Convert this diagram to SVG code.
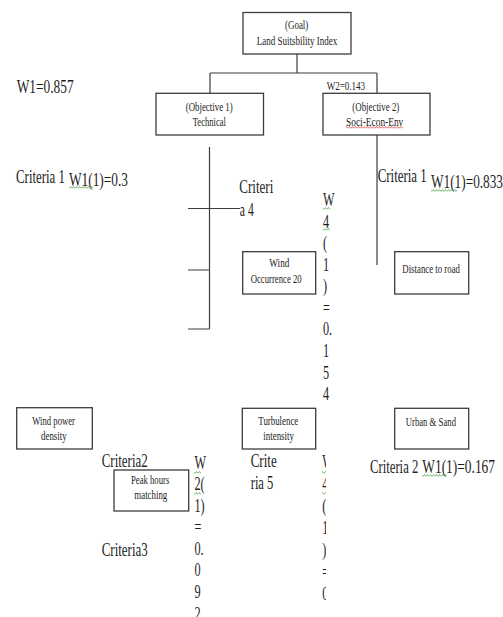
<svg xmlns="http://www.w3.org/2000/svg" width="503" height="617" viewBox="0 0 503 617">
<defs>
<style>
.box{fill:#fff;stroke:#3c3c3c;stroke-width:1.3}
.ln{stroke:#3c3c3c;stroke-width:1.2;fill:none}
text{font-family:"Liberation Serif","Times New Roman",serif;fill:#1e1e1e}
.s{font-size:12.5px}
.b{font-size:18px}
</style>
<pattern id="wg" width="3" height="3" patternUnits="userSpaceOnUse"><path d="M0 2.5L1.5 0.5L3 2.5" stroke="#3a9a3a" stroke-width="0.7" fill="none"/></pattern>
<pattern id="wr" width="3" height="3" patternUnits="userSpaceOnUse"><path d="M0 2.5L1.5 0.5L3 2.5" stroke="#d03030" stroke-width="0.7" fill="none"/></pattern>
<clipPath id="c3"><rect x="318" y="450" width="8" height="155"/></clipPath>
</defs>
<rect width="503" height="617" fill="#fff"/>

<g id="connectors" class="ln">
<path d="M297 54V73M210 73H377M210 73V93.3M377 73V93.3"/>
<path d="M377 135V265"/>
<path d="M209.5 147V329M188 208.5H240M188 270H209.5M188 329H209.5"/>
</g>

<g id="goal">
<rect class="box" x="243" y="12.5" width="108" height="41.5"/>
<text class="s" x="285" y="28.5" textLength="23.3" lengthAdjust="spacingAndGlyphs">(Goal)</text>
<text class="s" x="256.7" y="45" textLength="80.6" lengthAdjust="spacingAndGlyphs">Land Suitsbility Index</text>
</g>

<g id="label-w2">
<text class="s" x="326.7" y="90" textLength="38.3" lengthAdjust="spacingAndGlyphs">W2=0.143</text>
</g>

<g id="objective1">
<rect class="box" x="156" y="93.3" width="107.5" height="41.7"/>
<text class="s" x="185.7" y="111" textLength="47" lengthAdjust="spacingAndGlyphs">(Objective 1)</text>
<text class="s" x="192.7" y="125.7" textLength="33.3" lengthAdjust="spacingAndGlyphs">Technical</text>
</g>

<g id="objective2">
<rect class="box" x="323" y="93.3" width="107" height="41.7"/>
<text class="s" x="352.3" y="111" textLength="47" lengthAdjust="spacingAndGlyphs">(Objective 2)</text>
<text class="s" x="346" y="125.7" textLength="57.3" lengthAdjust="spacingAndGlyphs">Soci-Econ-Env</text>
<rect x="346" y="126" width="57" height="3" fill="url(#wr)"/>
</g>

<g id="label-w1">
<text class="b" x="16.7" y="93" textLength="57" lengthAdjust="spacingAndGlyphs">W1=0.857</text>
</g>

<g id="label-criteria1-left">
<text class="b" x="16" y="182.5" textLength="49" lengthAdjust="spacingAndGlyphs">Criteria 1</text>
<text class="b" x="69" y="186" textLength="59" lengthAdjust="spacingAndGlyphs">W1(1)=0.3</text>
<rect x="69" y="186" width="24" height="3" fill="url(#wg)"/>
</g>

<g id="label-criteria4">
<text class="b" x="239.3" y="192.7" textLength="34" lengthAdjust="spacingAndGlyphs">Criteri</text>
<text class="b" x="239.8" y="216" textLength="14" lengthAdjust="spacingAndGlyphs">a 4</text>
</g>

<g id="label-w4-col">
<g transform="translate(323,0) scale(0.68,1)">
<text class="b" x="0" y="206.5">W</text>
<text class="b" x="0" y="228">4</text>
<text class="b" x="0" y="249.5">(</text>
<text class="b" x="0" y="271">1</text>
<text class="b" x="0" y="292.5">)</text>
<text class="b" x="0" y="314">=</text>
<text class="b" x="0" y="335.5">0.</text>
<text class="b" x="0" y="357">1</text>
<text class="b" x="0" y="378.5">5</text>
<text class="b" x="0" y="400">4</text>
</g>
<rect x="323" y="207" width="7" height="3" fill="url(#wg)"/>
<rect x="323" y="228" width="7" height="3" fill="url(#wg)"/>
</g>

<g id="wind-occurrence">
<rect class="box" x="242.7" y="251.7" width="73" height="42.3"/>
<text class="s" x="269.3" y="266.7" textLength="20" lengthAdjust="spacingAndGlyphs">Wind</text>
<text class="s" x="250.7" y="282.7" textLength="51" lengthAdjust="spacingAndGlyphs">Occurrence  20</text>
</g>

<g id="label-criteria1-right">
<text class="b" x="377.7" y="182.3" textLength="49" lengthAdjust="spacingAndGlyphs">Criteria 1</text>
<text class="b" x="431" y="188" textLength="72" lengthAdjust="spacingAndGlyphs">W1(1)=0.833</text>
<rect x="431" y="189" width="26" height="3" fill="url(#wg)"/>
</g>

<g id="distance-road">
<rect class="box" x="394.7" y="251.7" width="74" height="42.3"/>
<text class="s" x="402.3" y="272.7" textLength="57.7" lengthAdjust="spacingAndGlyphs">Distance to road</text>
</g>

<g id="wind-power">
<rect class="box" x="16.7" y="407.7" width="75.6" height="41.3"/>
<text class="s" x="32.3" y="425" textLength="42.7" lengthAdjust="spacingAndGlyphs">Wind power</text>
<text class="s" x="41" y="439.5" textLength="25.7" lengthAdjust="spacingAndGlyphs">density</text>
</g>

<g id="turbulence">
<rect class="box" x="242.3" y="408.3" width="73.4" height="40.7"/>
<text class="s" x="258.3" y="425" textLength="40" lengthAdjust="spacingAndGlyphs">Turbulence</text>
<text class="s" x="263.3" y="439.5" textLength="30.7" lengthAdjust="spacingAndGlyphs">intensity</text>
</g>

<g id="urban-sand">
<rect class="box" x="394.7" y="408.3" width="74" height="40.7"/>
<text class="s" x="405.7" y="426" textLength="50.3" lengthAdjust="spacingAndGlyphs">Urban &amp; Sand</text>
</g>

<g id="label-criteria2-left">
<text class="b" x="101.7" y="467.3" textLength="46" lengthAdjust="spacingAndGlyphs">Criteria2</text>
</g>

<g id="peak-hours">
<rect class="box" x="114" y="470" width="74.7" height="41"/>
<text class="s" x="131" y="484.3" textLength="38.3" lengthAdjust="spacingAndGlyphs">Peak hours</text>
<text class="s" x="134.3" y="499" textLength="33" lengthAdjust="spacingAndGlyphs">matching</text>
</g>

<g id="label-criteria3">
<text class="b" x="101.7" y="555.7" textLength="46" lengthAdjust="spacingAndGlyphs">Criteria3</text>
</g>

<g id="label-w2-col">
<g transform="translate(194.5,0) scale(0.68,1)">
<text class="b" x="0" y="469">W</text>
<text class="b" x="0" y="490.5">2(</text>
<text class="b" x="0" y="512">1)</text>
<text class="b" x="0" y="533.5">=</text>
<text class="b" x="0" y="555">0.</text>
<text class="b" x="0" y="576.5">0</text>
<text class="b" x="0" y="598">9</text>
<text class="b" x="0" y="620.5">2</text>
</g>
<rect x="194" y="471" width="7" height="3" fill="url(#wg)"/>
<rect x="194" y="492" width="7" height="3" fill="url(#wg)"/>
</g>

<g id="label-criteria5">
<text class="b" x="250.7" y="467.3" textLength="26" lengthAdjust="spacingAndGlyphs">Crite</text>
<text class="b" x="250.7" y="489" textLength="22.7" lengthAdjust="spacingAndGlyphs">ria 5</text>
</g>

<g id="label-w5-col" clip-path="url(#c3)">
<g transform="translate(322.3,0) scale(0.68,1)">
<text class="b" x="0" y="468">W</text>
<text class="b" x="0" y="490">4</text>
<text class="b" x="0" y="512">(</text>
<text class="b" x="0" y="534">1</text>
<text class="b" x="0" y="556">)</text>
<text class="b" x="0" y="578">=</text>
<text class="b" x="0" y="600">0</text>
</g>
<rect x="322" y="471" width="4" height="3" fill="url(#wg)"/>
<rect x="322" y="492" width="4" height="3" fill="url(#wg)"/>
</g>

<g id="label-criteria2-right">
<text class="b" x="370" y="473.3" textLength="48.3" lengthAdjust="spacingAndGlyphs">Criteria 2</text>
<text class="b" x="422.3" y="473.3" textLength="72.7" lengthAdjust="spacingAndGlyphs">W1(1)=0.167</text>
<rect x="422" y="474" width="25" height="3" fill="url(#wg)"/>
</g>
</svg>
